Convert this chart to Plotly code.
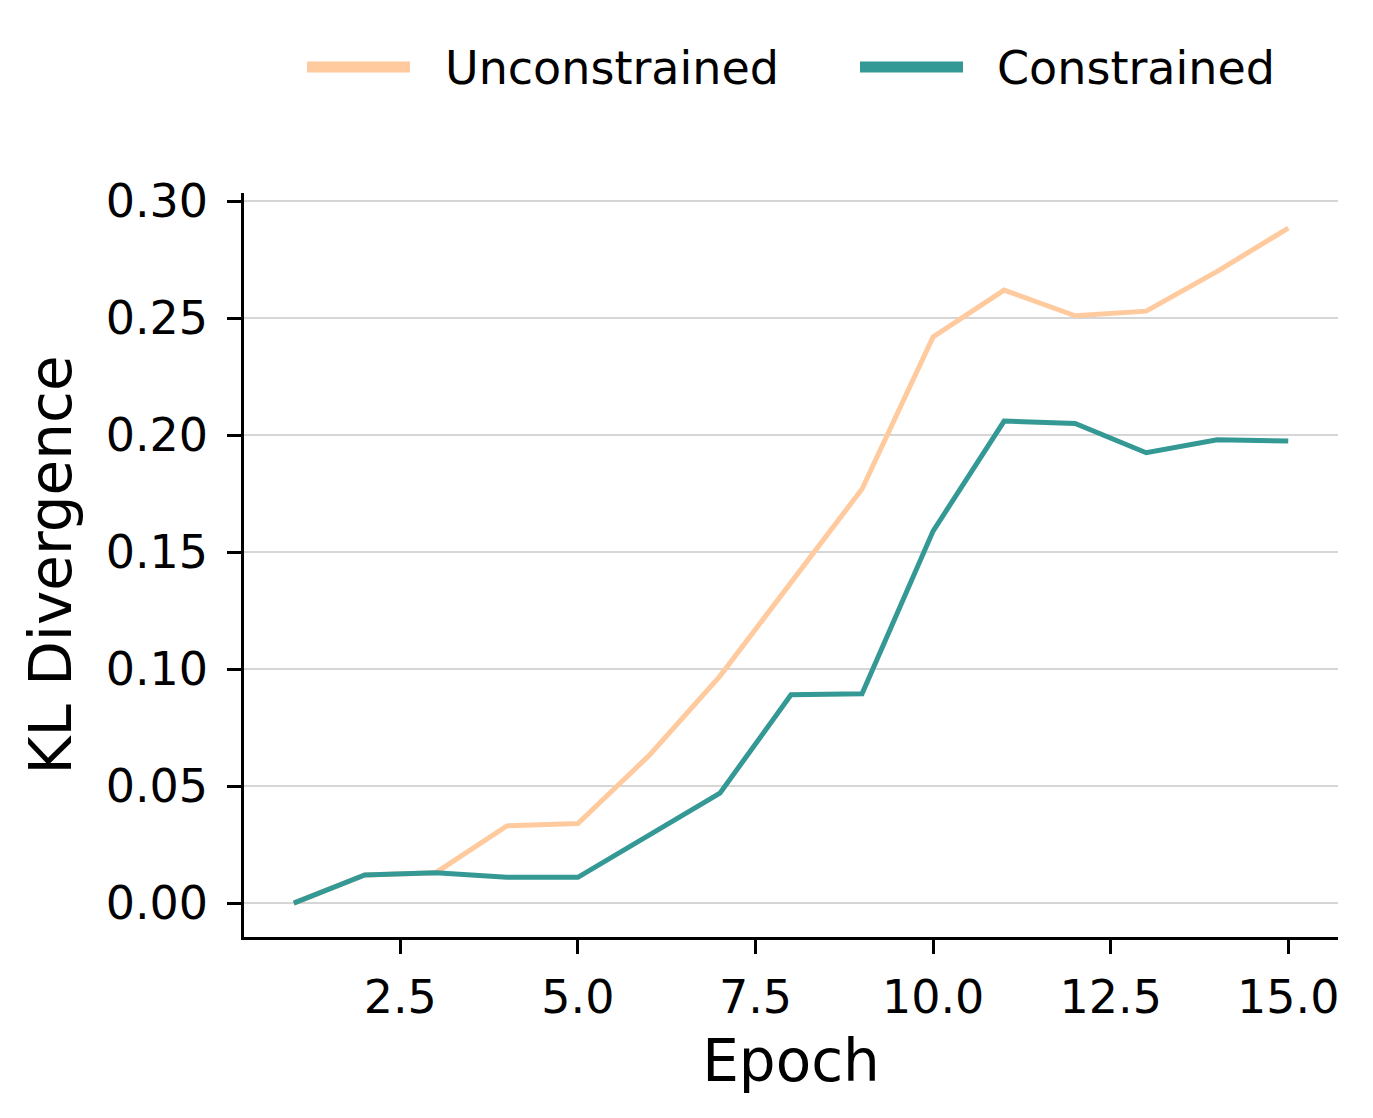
import plotly.graph_objects as go

epochs = list(range(1, 16))
unconstrained = [0.0, 0.012, 0.013, 0.033, 0.034, 0.063, 0.097, 0.137, 0.177,
                 0.242, 0.262, 0.251, 0.253, 0.270, 0.2885]
constrained = [0.0, 0.012, 0.013, 0.011, 0.011, 0.029, 0.047, 0.089, 0.0895,
               0.159, 0.206, 0.205, 0.1925, 0.198, 0.1975]
x_ticks = [2.5, 5.0, 7.5, 10.0, 12.5, 15.0]
y_ticks = [0.0, 0.05, 0.10, 0.15, 0.20, 0.25, 0.30]
series_names = ["Unconstrained", "Constrained"]

c_un = "rgb(255,202,158)"
c_co = "rgb(52,152,148)"
FONT = "DejaVu Sans"

fig = go.Figure()
fig.add_trace(go.Scatter(x=epochs, y=unconstrained, mode="lines", name=series_names[0],
                         line=dict(color=c_un, width=5), showlegend=False))
fig.add_trace(go.Scatter(x=epochs, y=constrained, mode="lines", name=series_names[1],
                         line=dict(color=c_co, width=5), showlegend=False))

# page body has an 8px margin; work in figure coords = page coords - 8
OFF = 8
W, H = 1373 - OFF, 1118 - OFF
L, T = 244 - OFF, 193 - OFF
R = W - (1338 - OFF)
B = H - (937 - OFF)
PW, PH = W - L - R, H - T - B

def fx(xp):
    return (xp - OFF - L) / PW

def fy(yp):
    return (H - B - (yp - OFF)) / PH

# manual legend (lines + labels above plot)
for (x0, x1, tx, name, col) in [(307, 410, 443, series_names[0], c_un),
                                  (860, 963, 995, series_names[1], c_co)]:
    fig.add_shape(type="line", xref="paper", yref="paper",
                  x0=fx(x0), x1=fx(x1), y0=fy(67), y1=fy(67),
                  line=dict(color=col, width=11))
    fig.add_annotation(xref="paper", yref="paper", x=fx(tx), y=fy(68),
                       text=name, showarrow=False, xanchor="left", yanchor="middle",
                       font=dict(family=FONT, size=46, color="black"))

fig.update_layout(
    width=W, height=H,
    margin=dict(l=L, r=R, t=T, b=B),
    plot_bgcolor="white", paper_bgcolor="white",
    font=dict(family=FONT, color="black"),
    showlegend=False,
)
fig.update_xaxes(
    range=[0.3, 15.7], tickvals=x_ticks, ticktext=[f"{v:.1f}" for v in x_ticks],
    showgrid=False, zeroline=False, showline=True, linecolor="black", linewidth=2.5,
    ticks="outside", ticklen=14, tickwidth=2.5, tickcolor="black",
    tickfont=dict(family=FONT, size=46, color="black"), ticklabelstandoff=4,
    title=dict(text="Epoch", font=dict(family=FONT, size=58, color="black"), standoff=18),
)
fig.update_yaxes(
    range=[-0.0145, 0.3035], tickvals=y_ticks, ticktext=[f"{v:.2f}" for v in y_ticks],
    showgrid=True, gridcolor="rgb(214,214,214)", gridwidth=1.5,
    zeroline=False, showline=True, linecolor="black", linewidth=2.5,
    ticks="outside", ticklen=14, tickwidth=2.5, tickcolor="black",
    tickfont=dict(family=FONT, size=46, color="black"), ticklabelstandoff=10,
    title=dict(text="KL Divergence", font=dict(family=FONT, size=58, color="black"), standoff=16),
)

fig.write_html("out.html")
